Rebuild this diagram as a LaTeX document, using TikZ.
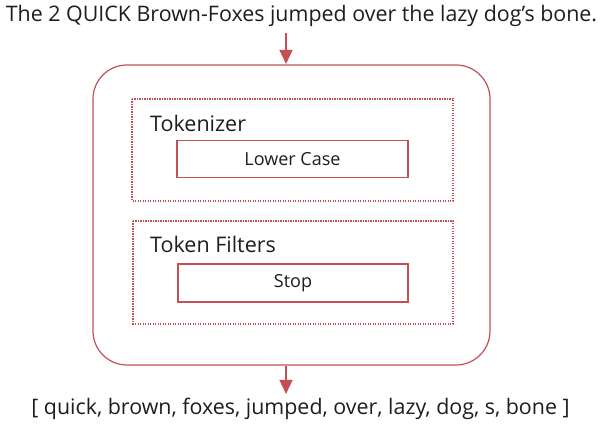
\documentclass[tikz,border=0pt]{standalone}
\usepackage{fontspec}
\setmainfont{Open Sans}
\usetikzlibrary{arrows.meta}
\definecolor{boxred}{RGB}{196,80,86}
\definecolor{txt}{RGB}{30,30,30}
\tikzset{
  outerbox/.style={draw=boxred, line width=1.2pt, rounded corners=34pt},
  stagebox/.style={draw=boxred, line width=1.1pt, dash pattern=on 1.2pt off 1.3pt},
  innerbox/.style={draw=boxred, line width=1.2pt, minimum width=231pt, minimum height=37pt, inner sep=0pt, font=\fontsize{18}{20}\selectfont, text=txt},
  stagelabel/.style={anchor=west, inner sep=0pt, font=\fontsize{21.5}{24}\selectfont, text=txt},
  flow/.style={draw=boxred, line width=1.3pt, -{Triangle[length=14pt,width=13pt]}},
  bigtext/.style={inner sep=0pt, font=\fontsize{21.4}{24}\selectfont, text=txt}
}
\begin{document}
\begin{tikzpicture}[x=1pt,y=-1pt]
\useasboundingbox[fill=white] (0,0) rectangle (603,427);
\node[bigtext] (input) at (301.5,16) {The 2 QUICK Brown-Foxes jumped over the lazy dog's bone.};
\draw[outerbox] (93,65) rectangle (490,365);
\coordinate (outtop) at (286,64);
\coordinate (outbot) at (286,366);
\draw[stagebox] (132,99) rectangle (453,201);
\node[stagelabel] (tokl) at (150,123) {Tokenizer};
\node[innerbox] (lower) at (292.5,159) {Lower Case};
\draw[stagebox] (133,221) rectangle (453,324);
\node[stagelabel] (tfl) at (150,244) {Token Filters};
\node[innerbox, minimum height=38pt, minimum width=230pt] (stop) at (293,283) {Stop};
\node[bigtext] (output) at (300.5,409) {[ quick, brown, foxes, jumped, over, lazy, dog, s, bone ]};
\draw[flow] (286,33) -- (outtop);
\draw[flow] (outbot) -- (286,394);
\end{tikzpicture}
\end{document}
